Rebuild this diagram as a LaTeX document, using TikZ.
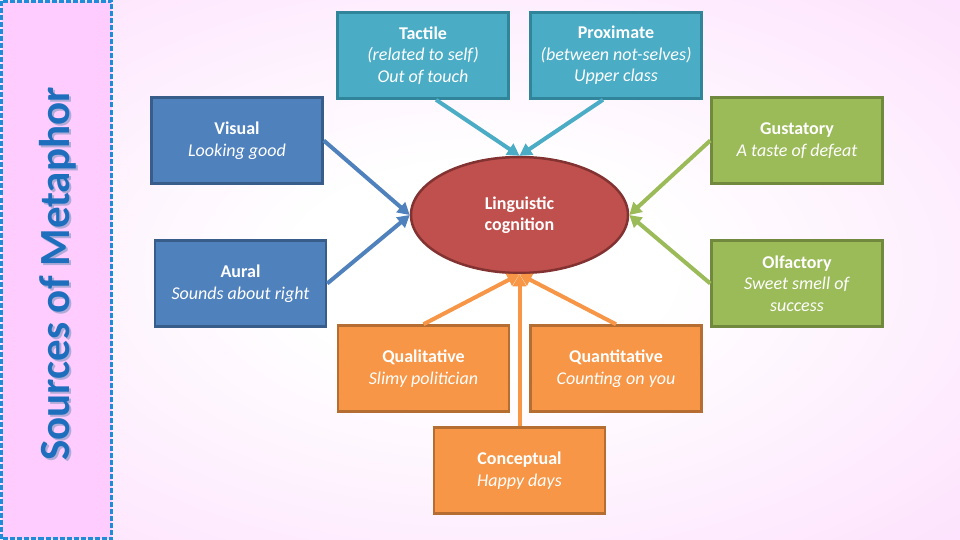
\documentclass[tikz,border=0pt]{standalone}
\usepackage{fontspec}
\setmainfont{Carlito}
\usetikzlibrary{arrows.meta,shapes.geometric}
\definecolor{pinkA}{RGB}{252,210,252}
\definecolor{pinkB}{RGB}{250,194,250}
\definecolor{barfill}{RGB}{255,204,255}
\definecolor{bardash}{RGB}{30,140,215}
\definecolor{titleblue}{RGB}{30,110,190}
\definecolor{titleshadow}{RGB}{175,170,215}
\definecolor{cyanfill}{RGB}{75,172,198}
\definecolor{cyanline}{RGB}{49,133,155}
\definecolor{bluefill}{RGB}{79,129,189}
\definecolor{blueline}{RGB}{56,93,138}
\definecolor{greenfill}{RGB}{155,187,89}
\definecolor{greenline}{RGB}{113,137,63}
\definecolor{orangefill}{RGB}{247,150,70}
\definecolor{orangeline}{RGB}{182,109,49}
\definecolor{redfill}{RGB}{192,80,77}
\definecolor{redline}{RGB}{130,50,48}
\pgfdeclareradialshading{bgshade}{\pgfpoint{0bp}{0bp}}{color(0bp)=(white); color(10bp)=(white); color(50bp)=(pinkA); color(72bp)=(pinkB)}
\tikzset{
  box/.style={rectangle, minimum width=171pt, minimum height=86pt, line width=2.5pt,
    align=center, text=white, inner sep=0pt, font=\fontsize{18}{21.5}\selectfont},
  cyanbox/.style={box, fill=cyanfill, draw=cyanline},
  bluebox/.style={box, fill=bluefill, draw=blueline},
  greenbox/.style={box, fill=greenfill, draw=greenline},
  orangebox/.style={box, fill=orangefill, draw=orangeline},
  conn/.style={line width=4pt, -{Triangle[length=12pt,width=13pt]}},
  titletext/.style={rotate=90, font=\bfseries\fontsize{43}{48}\selectfont},
}
\newcommand{\hd}[1]{\textbf{#1}}
\begin{document}
\begin{tikzpicture}[x=1pt,y=-1pt]
\useasboundingbox (0,0) rectangle (960,540);
\shade[shading=bgshade] (0,0) rectangle (960,540);
% left bar
\draw[fill=barfill, draw=bardash, line width=2.5pt, dash pattern=on 5pt off 2pt] (1.5,1.5) rectangle (111.5,538.5);
\node[titletext, text=titleshadow] (titlesh) at (59.5,276) {Sources of Metaphor};
\node[titletext, text=titleblue] (title) at (57.5,274) {Sources of Metaphor};
% center
\node[ellipse, minimum width=217pt, minimum height=116pt, fill=redfill, draw=redline, line width=2.5pt,
  align=center, text=white, font=\bfseries\fontsize{18}{21.5}\selectfont] (lc) at (519.5,215) {Linguistic\\cognition};
% boxes
\node[cyanbox] (tactile) at (423,55.5) {\hd{Tactile}\\\textit{(related to self)}\\\textit{Out of touch}};
\node[cyanbox] (proximate) at (616,55.5) {\hd{Proximate}\\\textit{(between not-selves)}\\\textit{Upper class}};
\node[bluebox] (visual) at (237,140.5) {\hd{Visual}\\\textit{Looking good}};
\node[bluebox] (aural) at (240.5,283.5) {\hd{Aural}\\\textit{Sounds about right}};
\node[greenbox] (gustatory) at (797,140.5) {\hd{Gustatory}\\\textit{A taste of defeat}};
\node[greenbox] (olfactory) at (797,283.5) {\hd{Olfactory}\\\textit{Sweet smell of}\\\textit{success}};
\node[orangebox] (qualitative) at (423.5,368.5) {\hd{Qualitative}\\\textit{Slimy politician}};
\node[orangebox] (quantitative) at (616,368.5) {\hd{Quantitative}\\\textit{Counting on you}};
\node[orangebox] (conceptual) at (519.5,470.5) {\hd{Conceptual}\\\textit{Happy days}};
% connectors
\draw[conn, cyanfill] ([xshift=13pt]tactile.south) -- (lc.north);
\draw[conn, cyanfill] ([xshift=-13pt]proximate.south) -- (lc.north);
\draw[conn, bluefill] (visual.east) -- (lc.west);
\draw[conn, bluefill] (aural.east) -- (lc.west);
\draw[conn, greenfill] (gustatory.west) -- (lc.east);
\draw[conn, greenfill] (olfactory.west) -- (lc.east);
\draw[conn, orangefill] (qualitative.north) -- (lc.south);
\draw[conn, orangefill] (quantitative.north) -- (lc.south);
\draw[conn, orangefill] (conceptual.north) -- (lc.south);
\end{tikzpicture}
\end{document}
